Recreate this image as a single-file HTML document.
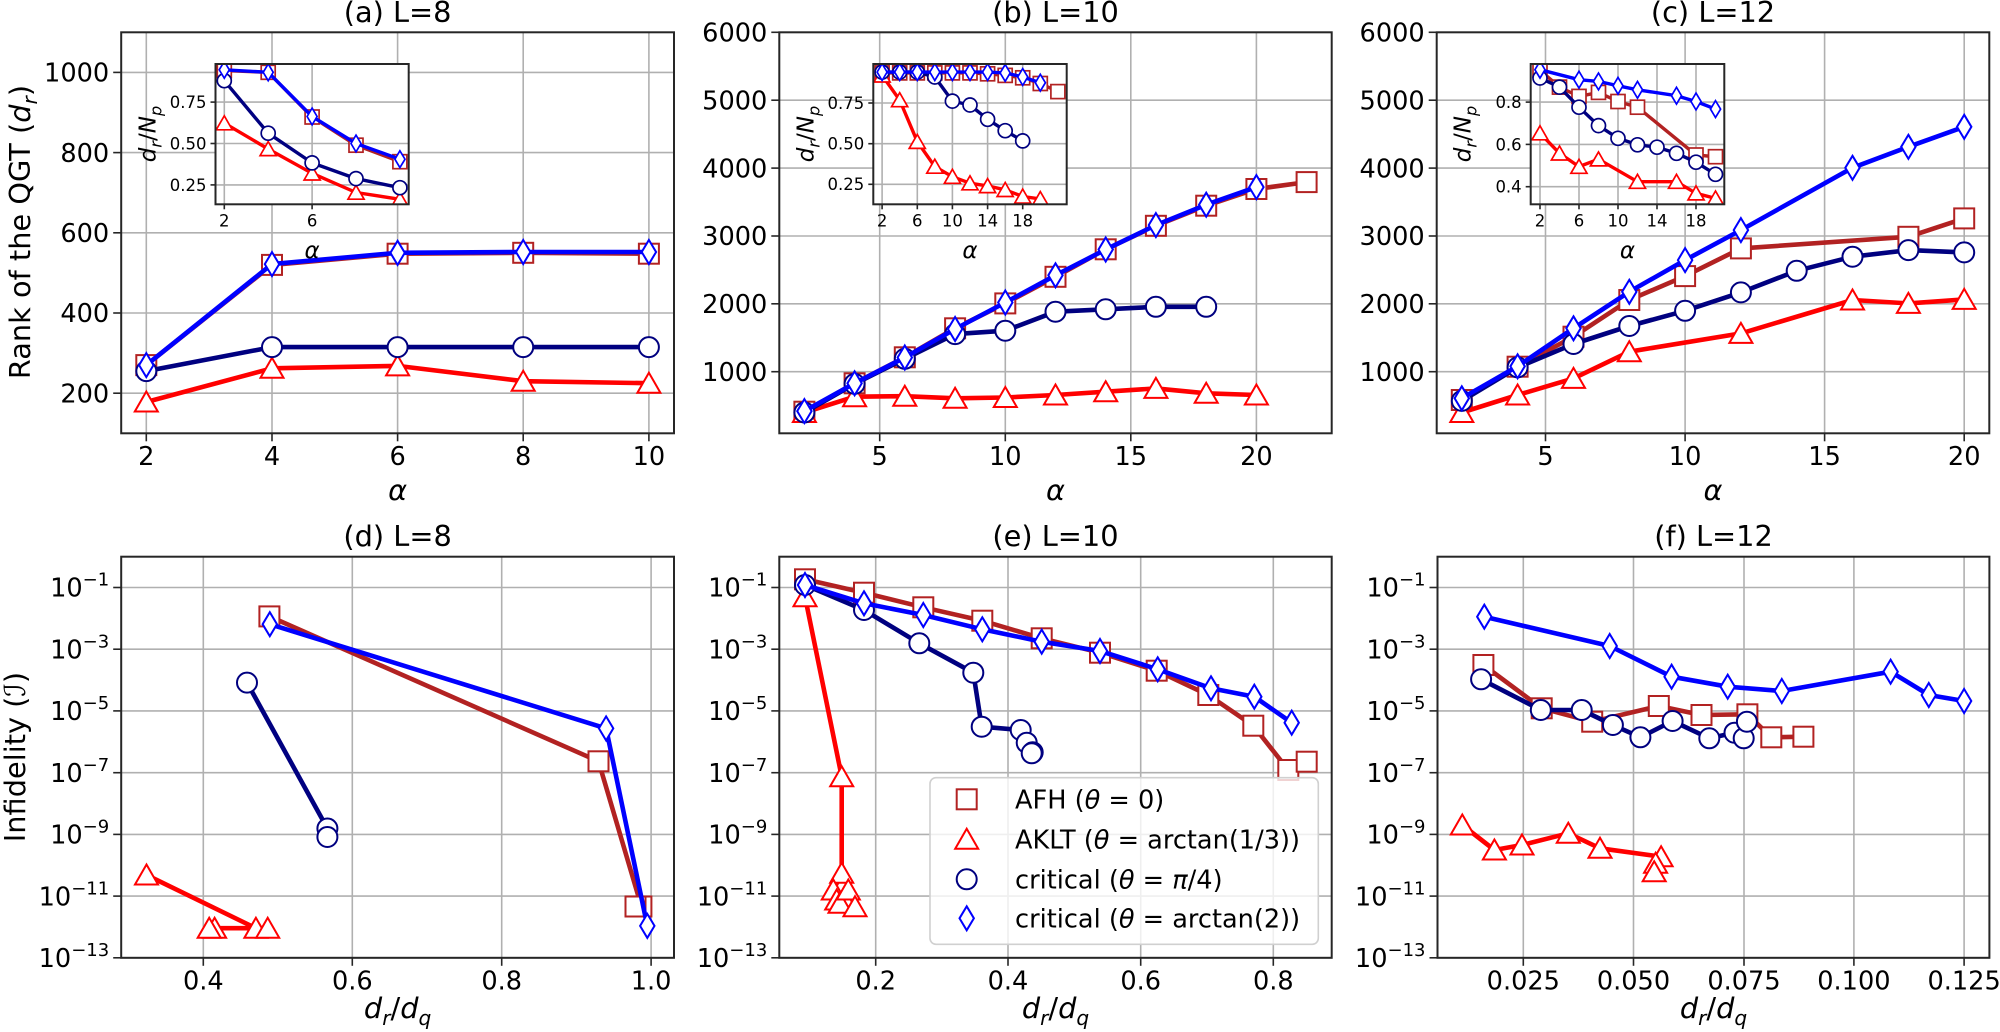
<!DOCTYPE html>
<html><head><meta charset="utf-8"><style>
html,body{margin:0;padding:0;background:#fff}
svg{display:block}
text{font-family:"DejaVu Sans","Liberation Sans",sans-serif;fill:#000}
</style></head><body>
<svg id="s" xmlns="http://www.w3.org/2000/svg" width="2000" height="1032" viewBox="0 0 2000 1032"></svg>
<script>
const P=[];const el=s=>P.push(s);
const COL={afh:'#b22222',aklt:'#ff0000',cpi:'#000080',ca2:'#0000ff'};
const TY={afh:'s',aklt:'^',cpi:'o',ca2:'d'};
function f(v){return (+v).toFixed(1)}
function mk(t,x,y,s,c,w){
 const st=`fill="#fff" stroke="${c}" stroke-width="${w}"`;
 if(t=='s')return `<rect x="${f(x-s)}" y="${f(y-s)}" width="${f(2*s)}" height="${f(2*s)}" ${st}/>`;
 if(t=='o')return `<circle cx="${f(x)}" cy="${f(y)}" r="${f(s)}" ${st}/>`;
 if(t=='^')return `<polygon points="${f(x)},${f(y-s*1.05)} ${f(x-s*1.15)},${f(y+s*0.95)} ${f(x+s*1.15)},${f(y+s*0.95)}" ${st}/>`;
 return `<polygon points="${f(x)},${f(y-s*1.2)} ${f(x+s*0.72)},${f(y)} ${f(x)},${f(y+s*1.2)} ${f(x-s*0.72)},${f(y)}" ${st}/>`;
}
function ser(pts,k,lw,s,mw){
 el(`<polyline points="${pts.map(p=>f(p[0])+','+f(p[1])).join(' ')}" fill="none" stroke="${COL[k]}" stroke-width="${lw}" stroke-linejoin="round" stroke-linecap="round"/>`);
 pts.forEach(p=>el(mk(TY[k],p[0],p[1],s,COL[k],mw)));
}
let cid=0;
function axes(A,xt,yt,fs,tl,draw){
 const id='c'+(cid++);
 el(`<clipPath id="${id}"><rect x="${A.x0}" y="${A.y0}" width="${A.x1-A.x0}" height="${A.y1-A.y0}"/></clipPath>`);
 el(`<rect x="${A.x0}" y="${A.y0}" width="${A.x1-A.x0}" height="${A.y1-A.y0}" fill="#fff"/>`);
 xt.forEach(t=>el(`<line x1="${f(t[0])}" x2="${f(t[0])}" y1="${A.y0}" y2="${A.y1}" stroke="#b0b0b0" stroke-width="1.6"/>`));
 yt.forEach(t=>el(`<line y1="${f(t[0])}" y2="${f(t[0])}" x1="${A.x0}" x2="${A.x1}" stroke="#b0b0b0" stroke-width="1.6"/>`));
 el(`<g clip-path="url(#${id})">`);draw();el('</g>');
 el(`<rect x="${A.x0}" y="${A.y0}" width="${A.x1-A.x0}" height="${A.y1-A.y0}" fill="none" stroke="#262626" stroke-width="2"/>`);
 xt.forEach(t=>{el(`<line x1="${f(t[0])}" x2="${f(t[0])}" y1="${A.y1}" y2="${A.y1+tl}" stroke="#262626" stroke-width="1.6"/>`);
  el(`<text x="${f(t[0])}" y="${f(A.y1+tl+5+fs*0.73)}" font-size="${fs}" text-anchor="middle">${t[1]}</text>`);});
 yt.forEach(t=>{el(`<line x1="${A.x0-tl}" x2="${A.x0}" y1="${f(t[0])}" y2="${f(t[0])}" stroke="#262626" stroke-width="1.6"/>`);
  el(`<text x="${f(A.x0-tl-4)}" y="${f(t[0]+fs*0.36)}" font-size="${fs}" text-anchor="end">${t[1]}</text>`);});
}
function mapper(A){
 const X=v=>A.x0+(v-A.xl[0])/(A.xl[1]-A.xl[0])*(A.x1-A.x0);
 const Y=v=>A.y1-(v-A.yl[0])/(A.yl[1]-A.yl[0])*(A.y1-A.y0);
 return [X,Y];
}
function topPanel(A,xticks,yticks,data,lw,s,mw,fs,tl,ylabfmt){
 const [X,Y]=mapper(A);
 axes(A,xticks.map(v=>[X(v),String(v)]),yticks.map(v=>[Y(v),ylabfmt?ylabfmt(v):String(v)]),fs,tl,()=>{
  ['afh','aklt','cpi','ca2'].forEach(k=>{const d=data[k];ser(d[0].map((x,i)=>[X(x),Y(d[1][i])]),k,lw,s,mw);});
 });
}
const r2=(a,b)=>{const o=[];for(let i=a;i<=b;i+=2)o.push(i);return o};
const drt='<tspan font-style="italic">d</tspan><tspan font-style="italic" font-size="70%" dy="6">r</tspan><tspan dy="-6">/</tspan>';
function insetLabels(A){
 const cx=(A.x0+A.x1)/2;
 el(`<text x="${cx}" y="258" font-size="23" font-style="italic" text-anchor="middle">α</text>`);
 el(`<text transform="translate(${A.x0-60},134) rotate(-90)" font-size="23" text-anchor="middle">${drt}<tspan font-style="italic">N</tspan><tspan font-style="italic" font-size="70%" dy="6">p</tspan></text>`);
}
const LW=4.6, IS=7, ILW=3.4;
const A1={x0:121.2,x1:674,y0:32.3,y1:433.3,xl:[1.6,10.4],yl:[100,1100]};
topPanel(A1,[2,4,6,8,10],[200,400,600,800,1000],{
 afh:[r2(2,10),[270,520,548,550,548]],
 aklt:[r2(2,10),[178,262,268,230,225]],
 cpi:[r2(2,10),[255,315,315,315,315]],
 ca2:[r2(2,10),[270,522,550,552,552]]},LW,10,2,25.6,8);
const IA={x0:215.5,x1:408.7,y0:64,y1:204.3,xl:[1.6,10.4],yl:[0.133,0.98]};
topPanel(IA,[2,6],[0.25,0.5,0.75],{
 afh:[r2(2,10),[.94,.93,.66,.49,.39]],
 aklt:[r2(2,10),[.623,.467,.32,.204,.163]],
 cpi:[r2(2,10),[.879,.562,.383,.288,.233]],
 ca2:[r2(2,10),[.945,.93,.663,.50,.405]]},ILW,IS,1.7,16.5,5,v=>v.toFixed(2));
insetLabels(IA);
const B1={x0:779.3,x1:1331.7,y0:32.3,y1:433.3,xl:[1,23],yl:[93,6000]};
topPanel(B1,[5,10,15,20],[1000,2000,3000,4000,5000,6000],{
 afh:[r2(2,22),[411,829,1212,1639,2007,2399,2803,3150,3445,3691,3794]],
 aklt:[r2(2,20),[400,632,640,608,620,657,706,755,682,657]],
 cpi:[r2(2,18),[400,820,1190,1555,1604,1884,1919,1957,1957]],
 ca2:[r2(2,20),[420,830,1210,1630,2020,2420,2800,3160,3460,3720]]},LW,10,2,25.6,8);
const IB={x0:873.3,x1:1066.7,y0:64,y1:204.3,xl:[1,23],yl:[0.127,0.99]};
topPanel(IB,[2,6,10,14,18],[0.25,0.5,0.75],{
 afh:[r2(2,22),[.935,.935,.935,.935,.935,.935,.93,.92,.905,.87,.82]],
 aklt:[r2(2,20),[.92,.768,.512,.359,.297,.257,.24,.216,.175,.16]],
 cpi:[r2(2,18),[.94,.94,.94,.91,.762,.738,.65,.58,.517]],
 ca2:[r2(2,20),[.94,.94,.94,.94,.94,.94,.94,.935,.91,.875]]},ILW,IS,1.7,16.5,5,v=>v.toFixed(2));
insetLabels(IB);
const C1={x0:1436.7,x1:1989.3,y0:32.3,y1:433.3,xl:[1.1,20.9],yl:[93,6000]};
topPanel(C1,[5,10,15,20],[1000,2000,3000,4000,5000,6000],{
 afh:[[2,4,6,8,10,12,18,20],[583,1074,1516,2056,2409,2817,2988,3259]],
 aklt:[[2,4,6,8,12,16,18,20],[400,657,902,1295,1565,2056,2007,2066]],
 cpi:[r2(2,20),[570,1064,1408,1673,1898,2169,2487,2694,2792,2758]],
 ca2:[[2,4,6,8,10,12,16,18,20],[608,1080,1639,2178,2645,3087,4004,4314,4608]]},LW,10,2,25.6,8);
const IC={x0:1530.7,x1:1724.3,y0:64,y1:204.3,xl:[1.05,20.9],yl:[0.317,0.98]};
topPanel(IC,[2,6,10,14,18],[0.4,0.6,0.8],{
 afh:[[2,4,6,8,10,12,18,20],[.95,.871,.827,.846,.803,.776,.55,.542]],
 aklt:[[2,4,6,8,12,16,18,20],[.653,.558,.495,.53,.424,.424,.369,.345]],
 cpi:[r2(2,20),[.914,.871,.776,.689,.629,.598,.587,.558,.516,.459]],
 ca2:[[2,6,8,10,12,16,18,20],[.953,.906,.898,.877,.858,.83,.803,.767]]},ILW,IS,1.7,16.5,5,v=>v.toFixed(1));
insetLabels(IC);
const lt=[];for(let k=0;k<7;k++)lt.push([587.5+k*61.72,`10<tspan dy="-11" font-size="18">−${2*k+1}</tspan>`]);
function bot(A,xt,data){
 axes(A,xt,lt,25.6,8,()=>{['afh','aklt','cpi','ca2'].forEach(k=>ser(data[k],k,LW,10,2));});
}
bot({x0:121.2,x1:674,y0:556.7,y1:957.8},[[203.3,'0.4'],[352.3,'0.6'],[501.7,'0.8'],[651.1,'1.0']],{
 afh:[[269.4,616.4],[598.5,761.3],[641.4,906.5],[635.5,906.5]],
 aklt:[[146.5,875],[255.9,928.2],[267.7,928.2],[214.6,928.2],[209.2,928.2]],
 cpi:[[247,682.6],[327.4,828.5],[327.4,837]],
 ca2:[[269.8,624.2],[606.1,728.4],[647.3,925.9]]});
bot({x0:779.3,x1:1331.7,y0:556.7,y1:957.8},[[875.7,'0.2'],[1008,'0.4'],[1140.7,'0.6'],[1273.3,'0.8']],{
 afh:[[805,579.3],[864,592.7],[923.3,607.3],[982.3,620.7],[1041.7,638.3],[1100,652.7],[1156.7,670.7],[1208.3,695],[1253.3,725.7],[1288.3,770],[1306.7,761.7]],
 aklt:[[805,596.7],[841.7,776.7],[841.7,873.3],[833.3,890],[836.7,900],[840,903.3],[848.3,890],[855,906.7]],
 cpi:[[805,585],[864,610],[919.3,643.3],[973.3,672.7],[981.7,726.7],[1020.7,730],[1026.7,742.7],[1032.7,752.3],[1031.7,753.3]],
 ca2:[[805,585],[864,603.3],[923.3,615],[982.3,629.3],[1041.7,641.7],[1100,651],[1157.7,669.3],[1211,688.3],[1254.3,696.7],[1291.7,722.7]]});
bot({x0:1437.5,x1:1989.4,y0:556.7,y1:957.8},[[1523.3,'0.025'],[1633.5,'0.050'],[1744,'0.075'],[1853.9,'0.100'],[1964.1,'0.125']],{
 afh:[[1483.4,665],[1541.7,708.3],[1592.2,721.7],[1658.8,706],[1701.5,715],[1747.4,714.3],[1771.3,737.3],[1803.4,736.7]],
 aklt:[[1462.3,825],[1494.4,850],[1522,845],[1568.3,833.3],[1600,848.3],[1661.1,856.7],[1655.6,863.3],[1654.2,871.7]],
 cpi:[[1481.1,679.3],[1540.8,710],[1581.7,710],[1612.9,725],[1640.4,737.3],[1672.6,721],[1709.3,738.3],[1734.5,732.7],[1743.7,738.3],[1746.9,721.7]],
 ca2:[[1484.3,616.7],[1609.7,646],[1671.6,676.7],[1727.7,686.7],[1781.8,691],[1890.6,671.7],[1928.8,695],[1964.1,701]]});
el(`<rect x="930" y="777.7" width="388.3" height="166.6" rx="6" fill="#fff" fill-opacity="0.8" stroke="#d0d0d0" stroke-width="1.6"/>`);
const LG=[['afh','AFH (<tspan font-style="italic">θ</tspan> = 0)'],['aklt','AKLT (<tspan font-style="italic">θ</tspan> = arctan(1/3))'],['cpi','critical (<tspan font-style="italic">θ</tspan> = <tspan font-style="italic">π</tspan>/4)'],['ca2','critical (<tspan font-style="italic">θ</tspan> = arctan(2))']];
[799.3,839.3,879.3,918.3].forEach((y,i)=>{const k=LG[i][0];el(mk(TY[k],966.7,y,10,COL[k],2));el(`<text x="1015" y="${y+9}" font-size="25.6">${LG[i][1]}</text>`);});
[[397.6,'(a) L=8'],[1055.5,'(b) L=10'],[1713,'(c) L=12']].forEach(t=>el(`<text x="${t[0]}" y="22" font-size="28.8" text-anchor="middle">${t[1]}</text>`));
[[397.6,'(d) L=8'],[1055.5,'(e) L=10'],[1713.5,'(f) L=12']].forEach(t=>el(`<text x="${t[0]}" y="546" font-size="28.8" text-anchor="middle">${t[1]}</text>`));
[397.6,1055.5,1713].forEach(x=>el(`<text x="${x}" y="500" font-size="28.8" font-style="italic" text-anchor="middle">α</text>`));
[397.6,1055.5,1713.5].forEach(x=>el(`<text x="${x}" y="1018" font-size="28.8" text-anchor="middle"><tspan font-style="italic">d</tspan><tspan font-style="italic" font-size="70%" dy="7">r</tspan><tspan dy="-7">/</tspan><tspan font-style="italic">d</tspan><tspan font-style="italic" font-size="70%" dy="7">q</tspan></text>`));
el(`<text transform="translate(30,232) rotate(-90)" font-size="28.8" text-anchor="middle">Rank of the QGT (<tspan font-style="italic">d</tspan><tspan font-style="italic" font-size="70%" dy="7">r</tspan><tspan dy="-7">)</tspan></text>`);
el(`<text transform="translate(25,757) rotate(-90)" font-size="28.8" text-anchor="middle">Infidelity (<tspan font-style="italic">ℐ</tspan>)</text>`);
document.getElementById('s').innerHTML=P.join('');
</script>
</body></html>
